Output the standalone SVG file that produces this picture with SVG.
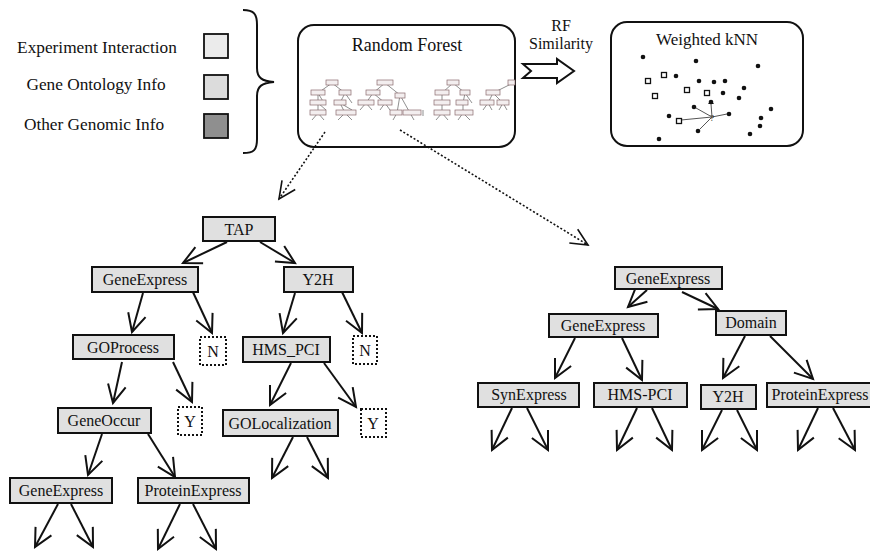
<svg xmlns="http://www.w3.org/2000/svg" width="870" height="551" viewBox="0 0 870 551">
<defs>
<style>
text{font-family:"Liberation Serif","Times New Roman",serif;fill:#111}
.lbl{font-size:16px;text-anchor:middle}
.leg{font-size:17.3px;text-anchor:middle}
.node{fill:#e0e0e0;stroke:#111;stroke-width:2}
.leaf{fill:#fff;stroke:#111;stroke-width:2;stroke-dasharray:2 2}
.edge{stroke:#111;stroke-width:2;fill:none;marker-end:url(#ah)}
.dot{stroke:#111;stroke-width:1.6;fill:none;stroke-dasharray:2 2;marker-end:url(#ahd)}
.panel{fill:#fff;stroke:#111;stroke-width:2}
.mb{fill:#f3eeef;stroke:#8a6a6e;stroke-width:0.7}
.ml{stroke:#444;stroke-width:0.6;fill:none}
.kd{fill:#111}
.ks{fill:#fff;stroke:#111;stroke-width:1.3}
</style>
<marker id="ah" markerUnits="userSpaceOnUse" viewBox="-22 -12 24 24" refX="0" refY="0" markerWidth="24" markerHeight="24" orient="auto" overflow="visible">
<path d="M-18,-9 L0,0 L-18,9" fill="none" stroke="#111" stroke-width="2"/>
</marker>
<marker id="ahd" markerUnits="userSpaceOnUse" viewBox="-22 -12 24 24" refX="0" refY="0" markerWidth="24" markerHeight="24" orient="auto" overflow="visible">
<path d="M-17,-8 L0,0 L-17,8" fill="none" stroke="#111" stroke-width="1.6"/>
</marker>
</defs>
<rect width="870" height="551" fill="#fff"/>

<g id="legend">
<text class="leg" x="97" y="53">Experiment Interaction</text>
<text class="leg" x="96" y="90">Gene Ontology Info</text>
<text class="leg" x="94" y="130">Other Genomic Info</text>
<rect x="204" y="34" width="24" height="24" fill="#ebebeb" stroke="#111" stroke-width="1.8"/>
<rect x="204" y="75" width="24" height="24" fill="#dcdcdc" stroke="#111" stroke-width="1.8"/>
<rect x="204" y="114" width="24" height="24" fill="#8f8f8f" stroke="#111" stroke-width="1.8"/>
<path d="M243,10 C254,10 257,14 257,25 L257,68 C257,78 262,81 274,82 C262,83 257,86 257,96 L257,139 C257,150 254,153 243,153" fill="none" stroke="#111" stroke-width="2"/>
</g>

<g id="random-forest">
<rect x="298" y="25" width="217" height="122" rx="16" class="panel"/>
<text x="407" y="51" style="font-size:18px" text-anchor="middle">Random Forest</text>
<g id="mini-forest">
<path class="ml" d="M332,83 L318,93 M332,83 L345,93 M318,93 L318,103 M318,93 L324,103 M345,93 L340,103 M345,93 L352,103 M318,103 L318,113 M318,103 L326,110 M340,103 L345,113 M340,103 L352,110 M318,113 L312,120 M318,113 L324,120 M345,113 L338,120 M345,113 L352,120"/>
<rect class="mb" x="326" y="80" width="12" height="5"/>
<rect class="mb" x="311" y="90" width="14" height="5"/>
<rect class="mb" x="339" y="90" width="12" height="5"/>
<rect class="mb" x="310" y="100" width="16" height="5"/>
<rect class="mb" x="334" y="100" width="12" height="5"/>
<rect class="mb" x="310" y="110" width="16" height="5"/>
<rect class="mb" x="336" y="110" width="20" height="5"/>
<path class="ml" d="M385,83 L373,93 M385,83 L400,95 M373,93 L366,103 M373,93 L385,103 M400,95 L397,113 M400,95 L410,113 M366,103 L360,110 M366,103 L372,110 M385,103 L380,110 M385,103 L390,110 M397,113 L393,120 M410,113 L414,120"/>
<rect class="mb" x="377" y="80" width="16" height="5"/>
<rect class="mb" x="366" y="90" width="14" height="5"/>
<rect class="mb" x="395" y="93" width="10" height="5"/>
<rect class="mb" x="358" y="100" width="16" height="5"/>
<rect class="mb" x="378" y="100" width="14" height="5"/>
<rect class="mb" x="390" y="110" width="12" height="5"/>
<rect class="mb" x="403" y="110" width="18" height="5"/>
<path class="ml" d="M423,110 L423,116"/>
<path class="ml" d="M453,83 L442,93 M453,83 L465,93 M442,93 L442,103 M465,93 L463,103 M465,93 L472,103 M442,103 L442,113 M463,103 L463,113 M442,113 L436,120 M442,113 L448,120 M463,113 L458,120 M463,113 L470,120"/>
<rect class="mb" x="447" y="80" width="12" height="5"/>
<rect class="mb" x="435" y="90" width="14" height="5"/>
<rect class="mb" x="460" y="90" width="10" height="5"/>
<rect class="mb" x="434" y="100" width="16" height="5"/>
<rect class="mb" x="456" y="100" width="12" height="5"/>
<rect class="mb" x="434" y="110" width="16" height="5"/>
<rect class="mb" x="455" y="110" width="18" height="5"/>
<path class="ml" d="M513,83 L493,93 M493,93 L488,103 M493,93 L503,103 M488,103 L483,110 M488,103 L492,110 M503,103 L499,110 M503,103 L507,110"/>
<rect class="mb" x="508" y="80" width="7" height="5"/>
<rect class="mb" x="486" y="90" width="14" height="5"/>
<rect class="mb" x="480" y="100" width="14" height="5"/>
<rect class="mb" x="497" y="100" width="12" height="5"/>
</g>
</g>

<g id="rf-similarity">
<text x="561" y="31" style="font-size:16px" text-anchor="middle">RF</text>
<text x="561" y="49" style="font-size:16px" text-anchor="middle">Similarity</text>
<polygon points="523,64 557,64 557,59 574,71 557,83 557,78 523,78 531,71" fill="#fff" stroke="#111" stroke-width="2" stroke-linejoin="miter"/>
</g>

<g id="weighted-knn">
<rect x="611" y="22" width="192" height="124" rx="16" class="panel"/>
<text x="707" y="45" style="font-size:17px" text-anchor="middle">Weighted kNN</text>
<g stroke="#555" stroke-width="1" fill="none">
<path d="M712,117 L681,120"/>
<path d="M712,117 L696,108"/>
<path d="M712,117 L711,104"/>
<path d="M712,117 L727,114"/>
<path d="M712,117 L700,129"/>
</g>
<path d="M708,104 L711,100 L714,104 Z" fill="#111"/>
<text x="712" y="121" style="font-size:9px" text-anchor="middle">?</text>
<g>
<circle class="kd" cx="643" cy="57" r="2.3"/><circle class="kd" cx="696" cy="61" r="2.3"/><circle class="kd" cx="758" cy="66" r="2.3"/><circle class="kd" cx="676" cy="76" r="2.3"/><circle class="kd" cx="699" cy="81" r="2.3"/><circle class="kd" cx="714" cy="82" r="2.3"/><circle class="kd" cx="725" cy="81" r="2.3"/><circle class="kd" cx="744" cy="88" r="2.3"/><circle class="kd" cx="723" cy="93" r="2.3"/><circle class="kd" cx="739" cy="98" r="2.3"/><circle class="kd" cx="771" cy="109" r="2.3"/><circle class="kd" cx="694" cy="107" r="2.3"/><circle class="kd" cx="711" cy="102" r="2.3"/><circle class="kd" cx="729" cy="114" r="2.3"/><circle class="kd" cx="669" cy="116" r="2.3"/><circle class="kd" cx="761" cy="118" r="2.3"/><circle class="kd" cx="760" cy="126" r="2.3"/><circle class="kd" cx="698" cy="131" r="2.3"/><circle class="kd" cx="750" cy="134" r="2.3"/><circle class="kd" cx="659" cy="139" r="2.3"/>
<rect class="ks" x="661.5" y="72.5" width="5" height="5"/><rect class="ks" x="645.5" y="78.5" width="5" height="5"/><rect class="ks" x="652.5" y="93.5" width="5" height="5"/><rect class="ks" x="684.5" y="87.5" width="5" height="5"/><rect class="ks" x="704.5" y="90.5" width="5" height="5"/><rect class="ks" x="676.5" y="118.5" width="5" height="5"/>
</g>
</g>

<g id="connectors">
<path class="dot" d="M325,132 L279,199"/>
<path class="dot" d="M400,130 L588,245"/>
<path class="edge" d="M227,242 L183,263"/>
<path class="edge" d="M260,242 L295,263"/>
<path class="edge" d="M143,293 L132,332"/>
<path class="edge" d="M192,290 L212,333"/>
<path class="edge" d="M295,293 L283,333"/>
<path class="edge" d="M342,292 L362,333"/>
<path class="edge" d="M122,362 L113,403"/>
<path class="edge" d="M173,362 L192,402"/>
<path class="edge" d="M291,363 L270,405"/>
<path class="edge" d="M324,363 L356,407"/>
<path class="edge" d="M102,434 L88,475"/>
<path class="edge" d="M148,434 L175,477"/>
<path class="edge" d="M293,437 L272,478"/>
<path class="edge" d="M307,437 L328,478"/>
<path class="edge" d="M58,504 L35,547"/>
<path class="edge" d="M71,504 L93,547"/>
<path class="edge" d="M180,504 L158,549"/>
<path class="edge" d="M193,504 L216,549"/>
<path class="edge" d="M647,290 L628,307"/>
<path class="edge" d="M682,292 L718,309"/>
<path class="edge" d="M575,338 L555,378"/>
<path class="edge" d="M622,338 L642,380"/>
<path class="edge" d="M745,336 L723,378"/>
<path class="edge" d="M770,336 L813,379"/>
<path class="edge" d="M512,408 L492,450"/>
<path class="edge" d="M527,408 L548,450"/>
<path class="edge" d="M637,408 L617,450"/>
<path class="edge" d="M652,408 L672,450"/>
<path class="edge" d="M722,410 L702,450"/>
<path class="edge" d="M737,410 L757,450"/>
<path class="edge" d="M818,408 L798,450"/>
<path class="edge" d="M833,408 L855,450"/>
</g>

<g id="n-tap"><rect class="node" x="203" y="217" width="72" height="24"/><text class="lbl" x="239" y="235">TAP</text></g>
<g id="n-geneexpress-1"><rect class="node" x="92" y="267" width="106" height="25"/><text class="lbl" x="145" y="285">GeneExpress</text></g>
<g id="n-y2h-1"><rect class="node" x="284" y="267" width="69" height="25"/><text class="lbl" x="318" y="285">Y2H</text></g>
<g id="n-goprocess"><rect class="node" x="73" y="335" width="101" height="24"/><text class="lbl" x="123" y="353">GOProcess</text></g>
<g id="n-n-1"><rect class="leaf" x="200" y="337" width="26" height="28"/><text class="lbl" x="213" y="357">N</text></g>
<g id="n-hmspci"><rect class="node" x="243" y="337" width="87" height="25"/><text class="lbl" x="286" y="355">HMS_PCI</text></g>
<g id="n-n-2"><rect class="leaf" x="353" y="336" width="24" height="28"/><text class="lbl" x="365" y="356">N</text></g>
<g id="n-geneoccur"><rect class="node" x="58" y="408" width="93" height="25"/><text class="lbl" x="104" y="426">GeneOccur</text></g>
<g id="n-y-1"><rect class="leaf" x="178" y="407" width="24" height="28"/><text class="lbl" x="190" y="427">Y</text></g>
<g id="n-golocalization"><rect class="node" x="223" y="410" width="115" height="26"/><text class="lbl" x="280" y="429">GOLocalization</text></g>
<g id="n-y-2"><rect class="leaf" x="361" y="409" width="25" height="28"/><text class="lbl" x="373" y="429">Y</text></g>
<g id="n-geneexpress-2"><rect class="node" x="10" y="478" width="102" height="25"/><text class="lbl" x="61" y="496">GeneExpress</text></g>
<g id="n-proteinexpress-1"><rect class="node" x="138" y="478" width="111" height="25"/><text class="lbl" x="193" y="496">ProteinExpress</text></g>

<g id="n-geneexpress-r"><rect class="node" x="615" y="267" width="107" height="22"/><text class="lbl" x="668" y="284">GeneExpress</text></g>
<g id="n-geneexpress-r2"><rect class="node" x="549" y="314" width="109" height="23"/><text class="lbl" x="603" y="331">GeneExpress</text></g>
<g id="n-domain"><rect class="node" x="716" y="311" width="70" height="24"/><text class="lbl" x="751" y="328">Domain</text></g>
<g id="n-synexpress"><rect class="node" x="478" y="383" width="101" height="24"/><text class="lbl" x="529" y="400">SynExpress</text></g>
<g id="n-hms-pci"><rect class="node" x="594" y="383" width="93" height="24"/><text class="lbl" x="640" y="400">HMS-PCI</text></g>
<g id="n-y2h-r"><rect class="node" x="701" y="385" width="55" height="24"/><text class="lbl" x="728" y="402">Y2H</text></g>
<g id="n-proteinexpress-r"><rect class="node" x="767" y="383" width="110" height="24"/><text class="lbl" x="820" y="400">ProteinExpress</text></g>
</svg>
